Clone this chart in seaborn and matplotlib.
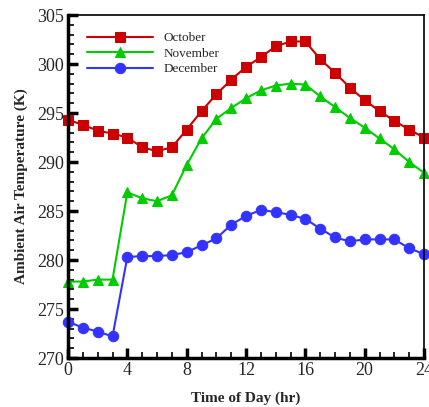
import numpy as np
import pandas as pd
import seaborn as sns
import matplotlib
matplotlib.use("Agg")
import matplotlib.pyplot as plt
from matplotlib.ticker import MultipleLocator

hours = list(range(25))
october = [294.3, 293.8, 293.2, 292.9, 292.5, 291.5, 291.1, 291.5, 293.3, 295.2,
           296.9, 298.4, 299.7, 300.7, 301.8, 302.3, 302.3, 300.5, 299.1, 297.6,
           296.3, 295.2, 294.2, 293.3, 292.5]
november = [277.8, 277.8, 278.0, 278.0, 286.9, 286.3, 286.0, 286.6, 289.7, 292.4,
            294.4, 295.5, 296.5, 297.3, 297.8, 298.0, 297.9, 296.7, 295.6, 294.5,
            293.5, 292.4, 291.3, 290.0, 288.9]
december = [273.7, 273.1, 272.7, 272.2, 280.3, 280.4, 280.4, 280.5, 280.8, 281.5,
            282.2, 283.6, 284.5, 285.1, 284.9, 284.6, 284.2, 283.2, 282.3, 281.9,
            282.1, 282.1, 282.1, 281.2, 280.6]
series_names = ["October", "November", "December"]
xticks = [0, 4, 8, 12, 16, 20, 24]
yticks = [270, 275, 280, 285, 290, 295, 300, 305]

df = pd.DataFrame({
    "hour": hours * 3,
    "temp": october + november + december,
    "month": [series_names[0]] * 25 + [series_names[1]] * 25 + [series_names[2]] * 25,
})

sns.set_style("white")
plt.rcParams["font.family"] = ["Liberation Serif", "DejaVu Serif"]

fig = plt.figure(figsize=(4.29, 4.07), dpi=100)
ax = fig.add_axes([68/429, 1 - 358/407, (424 - 68)/429, (358 - 15)/407])

colors = {"October": "#cc0000", "November": "#00cc00", "December": "#3333ff"}
markers = {"October": "s", "November": "^", "December": "o"}
msizes = {"October": 6.5, "November": 6.5, "December": 7.5}
for name in series_names:
    sub = df[df["month"] == name]
    sns.lineplot(data=sub, x="hour", y="temp", ax=ax, color=colors[name],
                 marker=markers[name], markersize=msizes[name],
                 markeredgecolor=colors[name], linewidth=1.5, label=name,
                 clip_on=False)

ax.set_xlim(0, 24)
ax.set_ylim(270, 305)
ax.set_xticks(xticks)
ax.set_yticks(yticks)
ax.xaxis.set_minor_locator(MultipleLocator(1))
ax.yaxis.set_minor_locator(MultipleLocator(1))
ax.tick_params(which="major", direction="in", length=7, width=2.5, color="black",
               labelsize=13, pad=3, bottom=True, left=True, top=False, right=False)
ax.tick_params(which="minor", direction="in", length=4, width=1.2, color="black",
               bottom=True, left=True, top=False, right=False)
for s in ["left", "bottom"]:
    ax.spines[s].set_linewidth(2.5)
    ax.spines[s].set_color("black")
for s in ["top", "right"]:
    ax.spines[s].set_linewidth(1.2)
    ax.spines[s].set_color("black")

ax.set_xlabel("Time of Day (hr)", fontsize=11, fontweight="bold", labelpad=9)
ax.set_ylabel("Ambient Air Temperature (K)", fontsize=11, fontweight="bold", labelpad=6)

leg = ax.legend(loc="upper left", bbox_to_anchor=(0.02, 0.985), frameon=False,
                fontsize=9.5, handlelength=5, handletextpad=0.8, labelspacing=0.25)

fig.savefig("out.png", dpi=100)
